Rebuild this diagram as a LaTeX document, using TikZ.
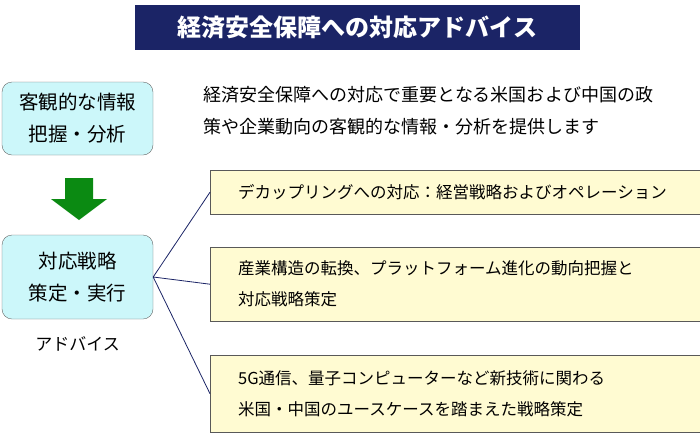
\documentclass[tikz,border=0pt]{standalone}
\usepackage{fontspec}
\setmainfont{Noto Sans CJK JP}
\usetikzlibrary{positioning}
\definecolor{navy}{HTML}{1B2466}
\definecolor{skybox}{HTML}{CCF7FA}
\definecolor{creambox}{HTML}{FFFBD2}
\definecolor{arrowgreen}{HTML}{0B8A12}
\tikzset{
  sidebox/.style={draw=gray!80!black, fill=skybox, rounded corners=10pt, minimum width=151pt, align=center, font=\fontsize{19.5}{32}\selectfont},
  itembox/.style={draw=gray!70!black, fill=creambox, minimum width=486pt, align=left, anchor=north west, inner xsep=28pt, text width=440pt, font=\fontsize{16.5}{31}\selectfont},
  link/.style={draw=navy, thick}
}
\begin{document}
\begin{tikzpicture}[x=1pt,y=-1pt]
\useasboundingbox (0,0) rectangle (700,437);
% title
\node[fill=navy, text=white, minimum width=445pt, minimum height=45pt, font=\fontsize{24}{26}\selectfont\bfseries] (title) at (357.5,27.5) {経済安全保障への対応アドバイス};
% left side
\node[sidebox, minimum height=73pt] (info) at (77.5,118.5) {客観的な情報\\把握・分析};
\node[sidebox, minimum height=84pt] (plan) at (77.5,277) {対応戦略\\策定・実行};
\node[font=\fontsize{17}{20}\selectfont, below=14pt of plan] (advice) {アドバイス};
\fill[arrowgreen] (65,178) -- (93,178) -- (93,199) -- (107,199) -- (79,220) -- (51,199) -- (65,199) -- cycle;
% intro text
\node[anchor=north west, align=left, font=\fontsize{18}{32}\selectfont] (intro) at (200,83) {経済安全保障への対応で重要となる米国および中国の政\\策や企業動向の客観的な情報・分析を提供します};
% items
\node[itembox, minimum height=44pt] (decouple) at (210,170) {デカップリングへの対応：経営戦略およびオペレーション};
\node[itembox, minimum height=74pt] (industry) at (210,247) {産業構造の転換、プラットフォーム進化の動向把握と\\対応戦略策定};
\node[itembox, minimum height=77pt] (tech) at (210,355) {5G通信、量子コンピューターなど新技術に関わる\\米国・中国のユースケースを踏まえた戦略策定};
% links
\draw[link] (plan.east) -- (decouple.west);
\draw[link] (plan.east) -- (industry.west);
\draw[link] (plan.east) -- (tech.west);
\end{tikzpicture}
\end{document}
